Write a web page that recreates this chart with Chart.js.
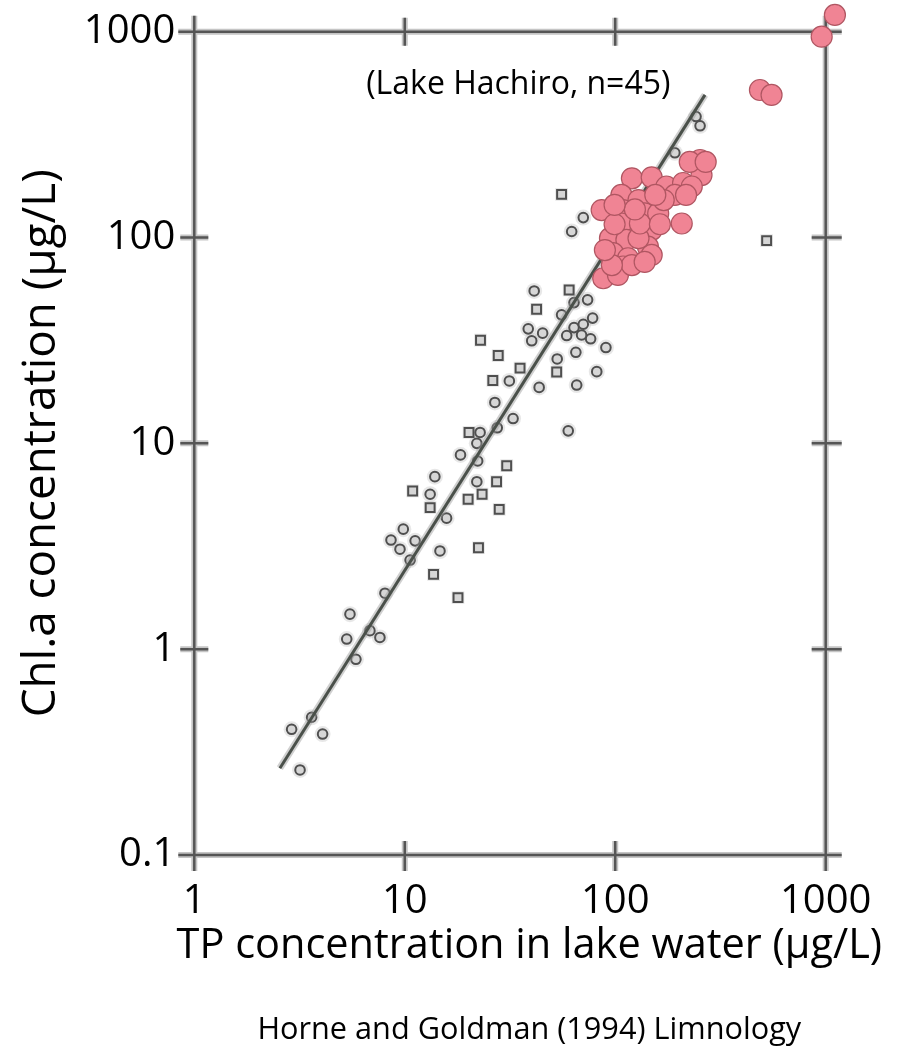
<!DOCTYPE html>
<html><head><meta charset="utf-8">
<script src="https://cdn.jsdelivr.net/npm/chart.js@4.4.1/dist/chart.umd.min.js"></script>
<style>html,body{margin:0;padding:0;background:#fff;}canvas{display:block;}</style>
</head><body>
<canvas id="c" width="910" height="1060"></canvas>
<script>
const FONT = "'Open Sans', sans-serif";
const xTickValues = [1, 10, 100, 1000];
const xTickLabels = ['1', '10', '100', '1000'];
const yTickValues = [0.1, 1, 10, 100, 1000];
const yTickLabels = ['0.1', '1', '10', '100', '1000'];
const xTitle = 'TP concentration in lake water (µg/L)';
const yTitle = 'Chl.a concentration (µg/L)';
const footnote = 'Horne and Goldman (1994) Limnology';
const annotation = '(Lake Hachiro, n=45)';

// Horne & Goldman lakes, circles
const circleTP  = [2.90, 3.18, 3.61, 4.07, 5.30, 5.49, 5.86, 6.83, 7.62, 8.05, 8.60, 9.84, 9.49, 11.2, 10.6, 14.7, 15.8, 13.2, 22.0, 13.9, 18.4, 22.2, 22.8, 22.0, 27.5, 32.7, 26.8, 31.4, 43.5, 59.8, 65.6, 81.7, 53.0, 65.0, 90.3, 76.4, 69.2, 58.8, 63.7, 70.5, 78.1, 55.6, 40.1, 38.6, 45.2, 41.2, 63.7, 73.9, 70.5, 62.1, 192, 242, 253];
const circleChl = [0.408, 0.259, 0.467, 0.387, 1.12, 1.48, 0.893, 1.23, 1.14, 1.87, 3.39, 3.83, 3.06, 3.36, 2.71, 3.00, 4.33, 5.66, 6.51, 6.89, 8.79, 8.21, 11.3, 10.0, 11.9, 13.2, 15.8, 20.1, 18.7, 11.5, 19.2, 22.3, 25.7, 27.7, 29.2, 32.2, 33.6, 33.4, 36.5, 37.9, 40.6, 42.1, 31.5, 36.0, 34.3, 55.0, 48.3, 49.8, 125, 107, 258, 387, 349];
// Horne & Goldman lakes, squares
const squareTP  = [13.7, 17.9, 22.4, 10.9, 13.2, 20.0, 23.3, 28.1, 27.3, 30.5, 20.2, 26.2, 35.3, 27.8, 22.9, 52.7, 42.3, 60.4, 55.6, 524];
const squareChl = [2.31, 1.78, 3.11, 5.87, 4.87, 5.35, 5.66, 4.78, 6.51, 7.79, 11.3, 20.2, 23.2, 26.7, 31.7, 22.2, 44.8, 55.6, 162, 96.6];
// Lake Hachiro (n=45)
const hachiroTP  = [120, 149, 175, 210, 253, 257, 231, 192, 107, 129, 86.2, 109, 138, 160, 207, 107, 149, 94.4, 113, 143, 97.8, 115, 149, 87.7, 109, 103, 129, 131, 226, 269, 217, 170, 124, 99.3, 120, 96.4, 138, 163, 99.3, 89.3, 155, 487, 553, 957, 1106];
const hachiroChl = [194, 196, 177, 184, 238, 201, 177, 161, 161, 152, 136, 136, 131, 131, 117, 117, 109, 99.3, 97.3, 90.3, 83.9, 79.3, 82.3, 63.4, 72.3, 65.8, 99.3, 117, 233, 233, 161, 152, 137, 116, 73.5, 73.5, 76.1, 116, 144, 86.9, 161, 521, 493, 946, 1207];
// regression line end points
const fitTP  = [2.55, 267];
const fitChl = [0.264, 493];

const toPts = (xs, ys) => xs.map((v, i) => ({x: v, y: ys[i]}));

const framePlugin = {
  id: 'frame',
  beforeDatasetsDraw(chart) {
    const {ctx, chartArea: a, scales: {x, y}} = chart;
    const E = 16;
    const path = () => {
      ctx.beginPath();
      ctx.moveTo(a.left - E, a.top); ctx.lineTo(a.right + E, a.top);
      ctx.moveTo(a.left - E, a.bottom); ctx.lineTo(a.right + E, a.bottom);
      ctx.moveTo(a.left, a.top - E); ctx.lineTo(a.left, a.bottom + E);
      ctx.moveTo(a.right, a.top - E); ctx.lineTo(a.right, a.bottom + E);
      x.ticks.forEach(t => {
        const p = x.getPixelForValue(t.value);
        if (p > a.left + 2 && p < a.right - 2) {
          ctx.moveTo(p, a.top - 14); ctx.lineTo(p, a.top + 14);
          ctx.moveTo(p, a.bottom - 14); ctx.lineTo(p, a.bottom + 16);
        }
      });
      y.ticks.forEach(t => {
        const p = y.getPixelForValue(t.value);
        if (p > a.top + 2 && p < a.bottom - 2) {
          ctx.moveTo(a.left - 14, p); ctx.lineTo(a.left + 14, p);
          ctx.moveTo(a.right - 14, p); ctx.lineTo(a.right + 16, p);
        }
      });
    };
    ctx.save();
    ctx.lineCap = 'butt';
    path(); ctx.lineWidth = 6; ctx.strokeStyle = 'rgba(150,150,150,0.55)'; ctx.stroke();
    path(); ctx.lineWidth = 2.5; ctx.strokeStyle = '#555555'; ctx.stroke();
    ctx.restore();
  }
};

// let the Lake Hachiro marks that lie past the frame be drawn too
const HACHIRO_INDEX = 6;
const overflowPlugin = {
  id: 'overflow',
  beforeDatasetDraw(chart, args) {
    if (args.index === HACHIRO_INDEX) {
      this._saved = chart.chartArea;
      const a = chart.chartArea;
      chart.chartArea = Object.assign({}, a, { top: a.top - 60, right: a.right + 60 });
    }
  },
  afterDatasetDraw(chart, args) {
    if (args.index === HACHIRO_INDEX && this._saved) {
      chart.chartArea = this._saved;
      this._saved = null;
    }
  }
};

const textPlugin = {
  id: 'texts',
  afterDraw(chart) {
    const {ctx, chartArea: a} = chart;
    ctx.save();
    ctx.fillStyle = '#000';
    ctx.textAlign = 'center';
    ctx.textBaseline = 'middle';
    ctx.font = "32px " + FONT;
    ctx.fillText(annotation, a.left + 324, a.top + 53);
    ctx.font = "41.5px " + FONT;
    ctx.fillText(xTitle, a.left + 335, a.bottom + 91);
    ctx.font = "30.7px " + FONT;
    ctx.fillText(footnote, a.left + 335, a.bottom + 175);
    ctx.restore();
  }
};

const greyBase = {
  borderColor: '#4f4f4f', borderWidth: 2, backgroundColor: '#d6d6d6',
  order: 4, clip: false
};

new Chart(document.getElementById('c'), {
  type: 'scatter',
  data: {
    datasets: [
      { label: 'halo-c', data: toPts(circleTP, circleChl), pointRadius: 8, pointBorderWidth: 0,
        backgroundColor: 'rgba(170,170,170,0.28)', borderColor: 'rgba(0,0,0,0)', order: 6 },
      { label: 'halo-s', data: toPts(squareTP, squareChl), pointStyle: 'rect', pointRadius: 9, pointBorderWidth: 0,
        backgroundColor: 'rgba(170,170,170,0.28)', borderColor: 'rgba(0,0,0,0)', order: 6 },
      Object.assign({ label: 'circles', data: toPts(circleTP, circleChl), pointStyle: 'circle', pointRadius: 4.8 }, greyBase),
      Object.assign({ label: 'squares', data: toPts(squareTP, squareChl), pointStyle: 'rect', pointRadius: 6.3 }, greyBase),
      { label: 'fit-halo', type: 'line', data: toPts(fitTP, fitChl), showLine: true, pointRadius: 0,
        borderColor: 'rgba(150,150,150,0.45)', borderWidth: 7, order: 3 },
      { label: 'fit', type: 'line', data: toPts(fitTP, fitChl), showLine: true, pointRadius: 0,
        borderColor: '#4a504a', borderWidth: 3, order: 2 },
      { label: 'Lake Hachiro', data: toPts(hachiroTP, hachiroChl), pointStyle: 'circle', pointRadius: 10.5,
        backgroundColor: 'rgb(240,132,148)', borderColor: 'rgb(176,86,98)', borderWidth: 1.2, order: 1, clip: false }
    ]
  },
  options: {
    responsive: false,
    animation: false,
    events: [],
    layout: { padding: { left: 0, top: 31.7, right: 84.3, bottom: 0 } },
    plugins: { legend: { display: false }, tooltip: { enabled: false }, title: { display: false } },
    scales: {
      x: {
        type: 'logarithmic', min: 1, max: 1000, position: 'bottom',
        afterBuildTicks: s => { s.ticks = xTickValues.map(v => ({ value: v })); },
        afterFit: s => { s.height = 205; s.paddingLeft = 0; s.paddingRight = 0; },
        grid: { display: false, drawTicks: false },
        border: { display: false },
        ticks: { color: '#000', font: { family: FONT, size: 40 }, padding: 23, autoSkip: false, maxRotation: 0,
                 callback: (v, i) => xTickLabels[i] }
      },
      y: {
        type: 'logarithmic', min: 0.1, max: 1000, position: 'left',
        afterBuildTicks: s => { s.ticks = yTickValues.map(v => ({ value: v })); },
        afterFit: s => { s.width = 194.3; s.paddingTop = 0; s.paddingBottom = 0; },
        grid: { display: false, drawTicks: false },
        border: { display: false },
        ticks: { color: '#000', font: { family: FONT, size: 40 }, padding: 19, autoSkip: false,
                 callback: (v, i) => yTickLabels[i] },
        title: { display: true, text: yTitle, color: '#000', font: { family: FONT, size: 45.8 }, padding: { top: 14, bottom: 0 } }
      }
    }
  },
  plugins: [framePlugin, overflowPlugin, textPlugin]
});
</script>
</body></html>
